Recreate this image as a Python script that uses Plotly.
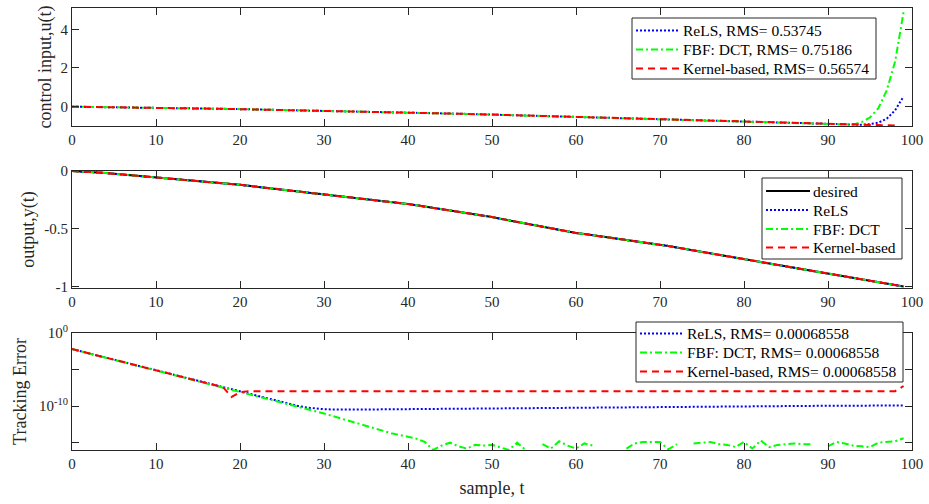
import plotly.graph_objects as go

# ---------------- data ----------------
t = list(range(100))

# output y(t) (desired; all methods track it to within ~1e-8)
y_desired = [0.000, -0.002, -0.006, -0.012, -0.018, -0.024, -0.030, -0.037, -0.044, -0.051,
             -0.058, -0.064, -0.070, -0.076, -0.082, -0.088, -0.094, -0.100, -0.107, -0.113,
             -0.120, -0.128, -0.136, -0.144, -0.152, -0.160, -0.168, -0.176, -0.184, -0.192,
             -0.200, -0.208, -0.216, -0.224, -0.233, -0.242, -0.251, -0.260, -0.269, -0.278,
             -0.287, -0.297, -0.308, -0.319, -0.330, -0.341, -0.352, -0.364, -0.376, -0.388,
             -0.400, -0.414, -0.428, -0.442, -0.456, -0.470, -0.483, -0.497, -0.510, -0.524,
             -0.537, -0.547, -0.557, -0.567, -0.577, -0.587, -0.598, -0.608, -0.618, -0.628,
             -0.638, -0.651, -0.664, -0.677, -0.690, -0.703, -0.716, -0.729, -0.742, -0.755,
             -0.767, -0.779, -0.791, -0.803, -0.815, -0.827, -0.840, -0.852, -0.864, -0.876,
             -0.888, -0.900, -0.913, -0.925, -0.938, -0.950, -0.963, -0.976, -0.989, -1.002]
y_rels = y_desired
y_fbf = y_desired
y_kernel = y_desired

# control input u(t): common part for t = 0..93
u_common = [-0.002, -0.006, -0.012, -0.018, -0.024, -0.030, -0.037, -0.044, -0.051, -0.058,
            -0.064, -0.070, -0.076, -0.082, -0.088, -0.094, -0.100, -0.107, -0.113, -0.120,
            -0.128, -0.136, -0.144, -0.152, -0.160, -0.168, -0.176, -0.184, -0.192, -0.200,
            -0.208, -0.216, -0.224, -0.233, -0.242, -0.251, -0.260, -0.269, -0.278, -0.287,
            -0.297, -0.308, -0.319, -0.330, -0.341, -0.352, -0.364, -0.376, -0.388, -0.400,
            -0.414, -0.428, -0.442, -0.456, -0.470, -0.483, -0.497, -0.510, -0.524, -0.537,
            -0.547, -0.557, -0.567, -0.577, -0.587, -0.598, -0.608, -0.618, -0.628, -0.638,
            -0.651, -0.664, -0.677, -0.690, -0.703, -0.716, -0.729, -0.742, -0.755, -0.767,
            -0.779, -0.791, -0.803, -0.815, -0.827, -0.840, -0.852, -0.864, -0.876, -0.888,
            -0.900, -0.913, -0.922, -0.930]
u_rels_tail = [-0.936, -0.905, -0.825, -0.620, -0.180, 0.530]
u_fbf_tail = [-0.800, -0.560, -0.080, 0.850, 2.350, 4.900]
u_kernel_tail = [-0.945, -0.955, -0.963, -0.970, -0.976, -1.100]
u_rels = u_common + u_rels_tail
u_fbf = u_common + u_fbf_tail
u_kernel = u_common + u_kernel_tail

# tracking error, log10 values (None = exactly zero, not drawn on log scale)
e_common_log = [-2.20, -2.49, -2.78, -3.07, -3.36, -3.65, -3.94, -4.23, -4.52, -4.81,
                -5.10, -5.39, -5.68, -5.97, -6.26, -6.55, -6.84, -7.13, -7.42]
e_rels_log_tail = [-7.71, -8.00, -8.30, -8.60, -8.90, -9.20, -9.50, -9.75, -10.00, -10.20,
                   -10.35, -10.42, -10.45, -10.47, -10.47, -10.47, -10.46, -10.45, -10.44, -10.43,
                   -10.42, -10.41, -10.40, -10.38, -10.37, -10.36, -10.34, -10.33, -10.32, -10.31,
                   -10.30, -10.28, -10.27, -10.25, -10.24, -10.22, -10.21, -10.19, -10.18, -10.16,
                   -10.15, -10.14, -10.13, -10.12, -10.11, -10.10, -10.09, -10.08, -10.07, -10.06,
                   -10.05, -10.05, -10.04, -10.04, -10.03, -10.03, -10.02, -10.02, -10.01, -10.01,
                   -10.00, -10.00, -9.99, -9.99, -9.98, -9.98, -9.97, -9.97, -9.96, -9.96,
                   -9.95, -9.95, -9.94, -9.94, -9.93, -9.93, -9.93, -9.92, -9.92, -9.92,
                   -9.92]
e_fbf_log_tail = [-7.71, -8.00, -8.30, -8.60, -8.90, -9.20, -9.50, -9.80, -10.10, -10.40,
                  -10.70, -11.00, -11.35, -11.70, -12.05, -12.40, -12.75, -13.10, -13.40, -13.70,
                  -13.95, -14.20, -14.45, -14.90, -16.00, -15.40, -15.00, -15.50, -15.80, -15.30,
                  -15.40, -15.30, -15.60, -16.00, -15.00, -16.00, None, -15.20, -15.80, -14.80,
                  -15.40, -15.80, -15.10, -15.40, None, None, None, -15.80, -15.10, -14.90,
                  -14.85, -14.90, -15.90, -15.20, None, -15.10, -14.95, -14.90, -15.20, -15.30,
                  -15.60, -14.90, -15.80, -14.70, -15.60, -15.30, -15.20, -15.10, -15.20, -15.20,
                  None, -15.50, -14.90, -15.10, -15.40, -15.50, -15.60, -15.00, -14.90, -14.80,
                  -14.40]
e_kernel_log_tail = [-8.75, -8.10, -7.95, -7.95, -7.95, -7.95, -7.95, -7.95, -7.95, -7.95,
                     -7.95, -7.95, -7.95, -7.95, -7.95, -7.95, -7.95, -7.95, -7.95, -7.95,
                     -7.95, -7.95, -7.95, -7.95, -7.95, -7.95, -7.95, -7.95, -7.95, -7.95,
                     -7.95, -7.95, -7.95, -7.95, -7.95, -7.95, -7.95, -7.95, -7.95, -7.95,
                     -7.95, -7.95, -7.95, -7.95, -7.95, -7.95, -7.95, -7.95, -7.95, -7.95,
                     -7.95, -7.95, -7.95, -7.95, -7.95, -7.95, -7.95, -7.95, -7.95, -7.95,
                     -7.95, -7.95, -7.95, -7.95, -7.95, -7.95, -7.95, -7.95, -7.95, -7.95,
                     -7.95, -7.95, -7.95, -7.95, -7.95, -7.95, -7.95, -7.95, -7.95, -7.95,
                     -7.25]

def from_log(vals):
    return [None if v is None else 10 ** v for v in vals]

e_rels = from_log(e_common_log + e_rels_log_tail)
e_fbf = from_log(e_common_log + e_fbf_log_tail)
e_kernel = from_log(e_common_log + e_kernel_log_tail)

rms_u = {"ReLS": "0.53745", "FBF: DCT": "0.75186", "Kernel-based": "0.56574"}
rms_e = {"ReLS": "0.00068558", "FBF: DCT": "0.00068558", "Kernel-based": "0.00068558"}

x_ticks = [0, 10, 20, 30, 40, 50, 60, 70, 80, 90, 100]

# ---------------- styling ----------------
FONT = "Liberation Serif"
AX = "#262626"
styles = {
    "desired": dict(color="black", width=2, dash="solid"),
    "ReLS": dict(color="#0000FF", width=2, dash="2px,2px"),
    "FBF: DCT": dict(color="#00FF00", width=2, dash="7px,3px,2px,3px"),
    "Kernel-based": dict(color="#FF0000", width=2, dash="7px,5px"),
}

W, H = 929, 504
ML, MR, MT, MB = 72, 17, 8, 54
PW, PH = W - ML - MR, H - MT - MB

def px(xp):
    return (xp - ML) / PW

def py(yp):
    return (H - MB - yp) / PH

fig = go.Figure()

# panel 1: control input
for name, u in [("ReLS", u_rels), ("FBF: DCT", u_fbf), ("Kernel-based", u_kernel)]:
    fig.add_trace(go.Scatter(x=t, y=u, mode="lines", line=styles[name],
                             name=f"{name}, RMS= {rms_u[name]}", showlegend=False,
                             xaxis="x", yaxis="y"))

# panel 2: output
for name, yy in [("desired", y_desired), ("ReLS", y_rels), ("FBF: DCT", y_fbf), ("Kernel-based", y_kernel)]:
    fig.add_trace(go.Scatter(x=t, y=yy, mode="lines", line=styles[name], name=name,
                             showlegend=False, xaxis="x2", yaxis="y2"))

# panel 3: tracking error
for name, ee in [("ReLS", e_rels), ("FBF: DCT", e_fbf), ("Kernel-based", e_kernel)]:
    fig.add_trace(go.Scatter(x=t, y=ee, mode="lines", line=styles[name],
                             name=f"{name}, RMS= {rms_e[name]}", showlegend=False,
                             xaxis="x3", yaxis="y3"))

# ---------------- MATLAB-style legends (box + sample line + text) ----------------
shapes, annotations = [], []

def add_legend(box, rows, line_x0, line_x1, text_x, entries):
    x0, y0, x1, y1 = box
    shapes.append(dict(type="rect", xref="paper", yref="paper",
                       x0=px(x0), x1=px(x1), y0=py(y1), y1=py(y0),
                       line=dict(color=AX, width=1), fillcolor="white", layer="above"))
    for (label, key), yc in zip(entries, rows):
        st = styles[key]
        shapes.append(dict(type="line", xref="paper", yref="paper",
                           x0=px(line_x0), x1=px(line_x1), y0=py(yc), y1=py(yc),
                           line=dict(color=st["color"], width=st["width"], dash=st["dash"]),
                           layer="above"))
        annotations.append(dict(xref="paper", yref="paper", x=px(text_x), y=py(yc),
                                xanchor="left", yanchor="middle", showarrow=False,
                                text=label, font=dict(family=FONT, size=15.5, color="black")))

names3 = ["ReLS", "FBF: DCT", "Kernel-based"]
add_legend((632, 18, 876, 79), [30.5, 49.5, 68.5], 636, 680, 681,
           [(f"{n}, RMS= {rms_u[n]}", n) for n in names3])
add_legend((762, 178, 902, 259), [191, 210, 229, 247.5], 766, 810, 811,
           [(n, n) for n in ["desired"] + names3])
add_legend((636, 322, 903, 382), [333.5, 352.5, 371.5], 640, 684, 685,
           [(f"{n}, RMS= {rms_e[n]}", n) for n in names3])

axis_common = dict(showline=True, linecolor=AX, linewidth=1, mirror="ticks",
                   ticks="inside", ticklen=7, tickwidth=1, tickcolor=AX,
                   showgrid=False, zeroline=False, automargin=False,
                   tickfont=dict(family=FONT, size=15, color=AX))
xcommon = dict(axis_common, range=[0, 100], tickmode="array", tickvals=x_ticks)

TITLE_FONT = dict(family=FONT, size=18, color=AX)

fig.update_layout(
    width=W, height=H,
    margin=dict(l=ML, r=MR, t=MT, b=MB, autoexpand=False),
    paper_bgcolor="white", plot_bgcolor="white",
    font=dict(family=FONT, color=AX),
    xaxis=dict(xcommon, domain=[0, 1], anchor="y"),
    xaxis2=dict(xcommon, domain=[0, 1], anchor="y2"),
    xaxis3=dict(xcommon, domain=[0, 1], anchor="y3",
                title=dict(text="sample, t", font=TITLE_FONT, standoff=10)),
    yaxis=dict(axis_common, domain=[py(126), py(8)], anchor="x", range=[-1.0, 5.1],
               tickmode="array", tickvals=[0, 2, 4], ticktext=["0", "2", "4"],
               title=dict(text="control input,u(t)", font=TITLE_FONT, standoff=4)),
    yaxis2=dict(axis_common, domain=[py(288), py(171)], anchor="x2", range=[-1.015, 0],
                tickmode="array", tickvals=[-1, -0.5, 0], ticktext=["-1", "-0.5", "0"],
                title=dict(text="output,y(t)", font=TITLE_FONT, standoff=4)),
    yaxis3=dict(axis_common, domain=[0, py(333)], anchor="x3", type="log", range=[-16, 0],
                tickmode="array", tickvals=[1, 1e-10],
                ticktext=["10<sup>0</sup>", "10<sup>-10</sup>"],
                minor=dict(tickmode="array", tickvals=[1e-5, 1e-15], ticks="inside",
                           ticklen=7, tickwidth=1, tickcolor=AX, showgrid=False),
                title=dict(text="Tracking Error", font=TITLE_FONT, standoff=7)),
    shapes=shapes,
    annotations=annotations,
    showlegend=False,
)

fig.write_html("out.html", config={"displayModeBar": False},
               post_script="document.body.style.margin='0px';document.body.style.overflow='hidden';")
